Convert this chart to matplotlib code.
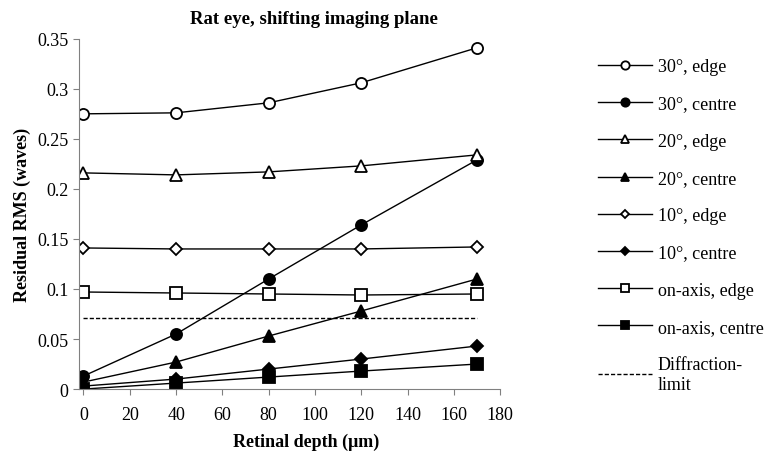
import matplotlib
matplotlib.use("Agg")
from matplotlib import pyplot as plt

plt.rcParams['font.family'] = ['Liberation Serif', 'DejaVu Serif']

# retinal depth (um)
depth = [0, 40, 80, 120, 170]

edge30 = [0.275, 0.276, 0.286, 0.306, 0.341]
centre30 = [0.013, 0.055, 0.110, 0.164, 0.229]
edge20 = [0.216, 0.214, 0.217, 0.223, 0.234]
centre20 = [0.007, 0.027, 0.053, 0.078, 0.110]
edge10 = [0.141, 0.140, 0.140, 0.140, 0.142]
centre10 = [0.003, 0.010, 0.020, 0.030, 0.043]
edge0 = [0.097, 0.096, 0.095, 0.094, 0.095]
centre0 = [0.000, 0.006, 0.012, 0.018, 0.025]
diffraction = [0.071, 0.071]
diffraction_x = [0, 170]

labels = ["30°, edge", "30°, centre", "20°, edge", "20°, centre",
          "10°, edge", "10°, centre", "on-axis, edge", "on-axis, centre"]

fig = plt.figure(figsize=(7.73, 4.52), dpi=100)
ax = fig.add_axes([0.102, 0.137, 0.545, 0.775])

series = [(edge30, 'o', 'white', 8),
          (centre30, 'o', 'black', 8),
          (edge20, '^', 'white', 8),
          (centre20, '^', 'black', 8),
          (edge10, 'D', 'white', 6),
          (centre10, 'D', 'black', 6),
          (edge0, 's', 'white', 8),
          (centre0, 's', 'black', 8)]

handles = []
for (vals, m, fc, ms), lab in zip(series, labels):
    h, = ax.plot(depth, vals, color='black', lw=1, marker=m, markersize=ms,
                 markerfacecolor=fc, markeredgecolor='black', markeredgewidth=1.3,
                 label=lab)
    handles.append(h)
h, = ax.plot(diffraction_x, diffraction, color='black', lw=1, ls=(0, (3, 1.5)),
             label="Diffraction-\nlimit")
handles.append(h)

ax.set_xlim(-2, 180)
ax.set_ylim(0, 0.35)
ax.set_xticks(range(0, 181, 20))
ax.set_yticks([0, 0.05, 0.1, 0.15, 0.2, 0.25, 0.3, 0.35])
ax.set_yticklabels(["0", "0.05", "0.1", "0.15", "0.2", "0.25", "0.3", "0.35"])
ax.tick_params(labelsize=13, color='#808080', length=4)
ax.tick_params(axis='x', pad=8)
for s in ['top', 'right']:
    ax.spines[s].set_visible(False)
for s in ['left', 'bottom']:
    ax.spines[s].set_color('#808080')

ax.set_title("Rat eye, shifting imaging plane", fontsize=13.5, fontweight='bold',
             x=0.558, pad=11)
ax.set_xlabel("Retinal depth (μm)", fontsize=13, fontweight='bold')
ax.xaxis.set_label_coords(0.54, -0.125)
ax.set_ylabel("Residual RMS (waves)", fontsize=13, fontweight='bold')

fig.legend(handles=handles, loc='upper left', bbox_to_anchor=(0.753, 0.905),
           frameon=False, fontsize=13, handlelength=3.0, labelspacing=1.12,
           markerscale=0.75, handletextpad=0.3)

fig.savefig("out.png", dpi=100)
